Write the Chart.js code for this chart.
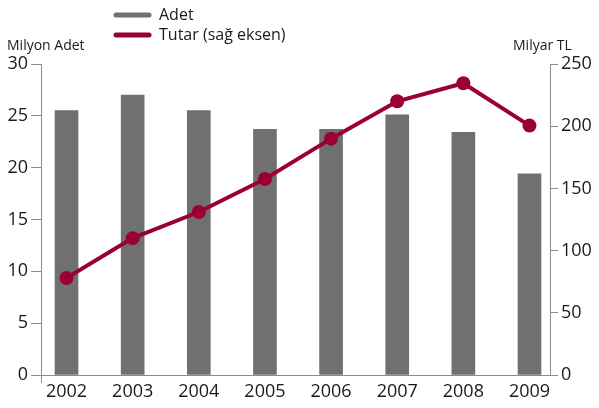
<!DOCTYPE html>
<html><head><meta charset="utf-8">
<script src="https://cdn.jsdelivr.net/npm/chart.js@4"></script>
<style>html,body{margin:0;padding:0;background:#fff}#w{width:599px;height:408px}</style>
</head><body><div id="w"><canvas id="c"></canvas></div>
<script>
const years = [2002, 2003, 2004, 2005, 2006, 2007, 2008, 2009];
const adet = [25.5, 27.0, 25.5, 23.7, 23.7, 25.1, 23.4, 19.4];
const tutar = [78, 110, 131, 157.5, 190, 220, 234.5, 200.5];
const leftTicks = [0, 5, 10, 15, 20, 25, 30];
const rightTicks = [0, 50, 100, 150, 200, 250];
const labels = {legendBar: 'Adet', legendLine: 'Tutar (sağ eksen)', leftTitle: 'Milyon Adet', rightTitle: 'Milyar TL'};

const GRAY = '#707070', RED = '#9b0032', AXIS = '#8c8c8c', TXT = '#1a1a1a';
const FONT = '"Open Sans", "Noto Sans", sans-serif';

const extras = {
  id: 'extras',
  afterDraw(chart) {
    const ctx = chart.ctx, a = chart.chartArea;
    ctx.save();
    ctx.strokeStyle = AXIS; ctx.lineWidth = 1;
    ctx.beginPath(); ctx.moveTo(a.left + 0.5, a.bottom); ctx.lineTo(a.left + 0.5, a.bottom + 8); ctx.stroke();
    ctx.lineCap = 'round'; ctx.lineWidth = 5;
    ctx.strokeStyle = GRAY; ctx.beginPath(); ctx.moveTo(116, 15); ctx.lineTo(149, 15); ctx.stroke();
    ctx.strokeStyle = RED; ctx.beginPath(); ctx.moveTo(116, 35); ctx.lineTo(149, 35); ctx.stroke();
    ctx.fillStyle = TXT; ctx.textBaseline = 'middle'; ctx.textAlign = 'left';
    ctx.font = '16px ' + FONT;
    ctx.fillText(labels.legendBar, 159, 15);
    ctx.fillText(labels.legendLine, 159, 35);
    ctx.font = '14px ' + FONT;
    ctx.fillText(labels.leftTitle, 7, 46);
    ctx.fillText(labels.rightTitle, 513, 46);
    ctx.restore();
  }
};

new Chart(document.getElementById('c'), {
  data: {
    datasets: [
      {type: 'line', data: years.map((y, i) => ({x: y, y: tutar[i]})), yAxisID: 'y2',
       borderColor: RED, backgroundColor: RED, borderWidth: 4, pointRadius: 7, pointHoverRadius: 7,
       pointBackgroundColor: RED, pointBorderWidth: 0, tension: 0, order: 0},
      {type: 'bar', data: years.map((y, i) => ({x: y, y: adet[i]})), yAxisID: 'y',
       backgroundColor: GRAY, barThickness: 23, order: 1}
    ]
  },
  options: {
    responsive: true, maintainAspectRatio: false, animation: false,
    layout: {padding: {top: 64, left: 0, right: 0, bottom: 0}},
    plugins: {legend: {display: false}, tooltip: {enabled: false}},
    scales: {
      x: {type: 'linear', position: 'bottom', min: 2001.614, max: 2009.31, offset: false,
          afterBuildTicks: s => { s.ticks = years.map(v => ({value: v})); },
          afterFit: s => { s.height = 33; },
          grid: {display: true, drawOnChartArea: false, drawTicks: false, offset: false},
          border: {display: true, color: AXIS, width: 1},
          ticks: {color: TXT, font: {family: FONT, size: 18}, padding: 6, maxRotation: 0, autoSkip: false,
                  callback: v => String(v)}},
      y: {position: 'left', min: 0, max: 30,
          afterBuildTicks: s => { s.ticks = leftTicks.map(v => ({value: v})); },
          afterFit: s => { s.width = 41; },
          grid: {drawOnChartArea: false, drawTicks: true, tickLength: 10, color: AXIS},
          border: {display: true, color: AXIS, width: 1},
          ticks: {color: TXT, font: {family: FONT, size: 18}, padding: 3}},
      y2: {position: 'right', min: 0, max: 250,
          afterBuildTicks: s => { s.ticks = rightTicks.map(v => ({value: v})); },
          afterFit: s => { s.width = 49; },
          grid: {drawOnChartArea: false, drawTicks: true, tickLength: 8, color: AXIS},
          border: {display: true, color: AXIS, width: 1},
          ticks: {color: TXT, font: {family: FONT, size: 18}, padding: 3}}
    }
  },
  plugins: [extras]
});
</script></body></html>
